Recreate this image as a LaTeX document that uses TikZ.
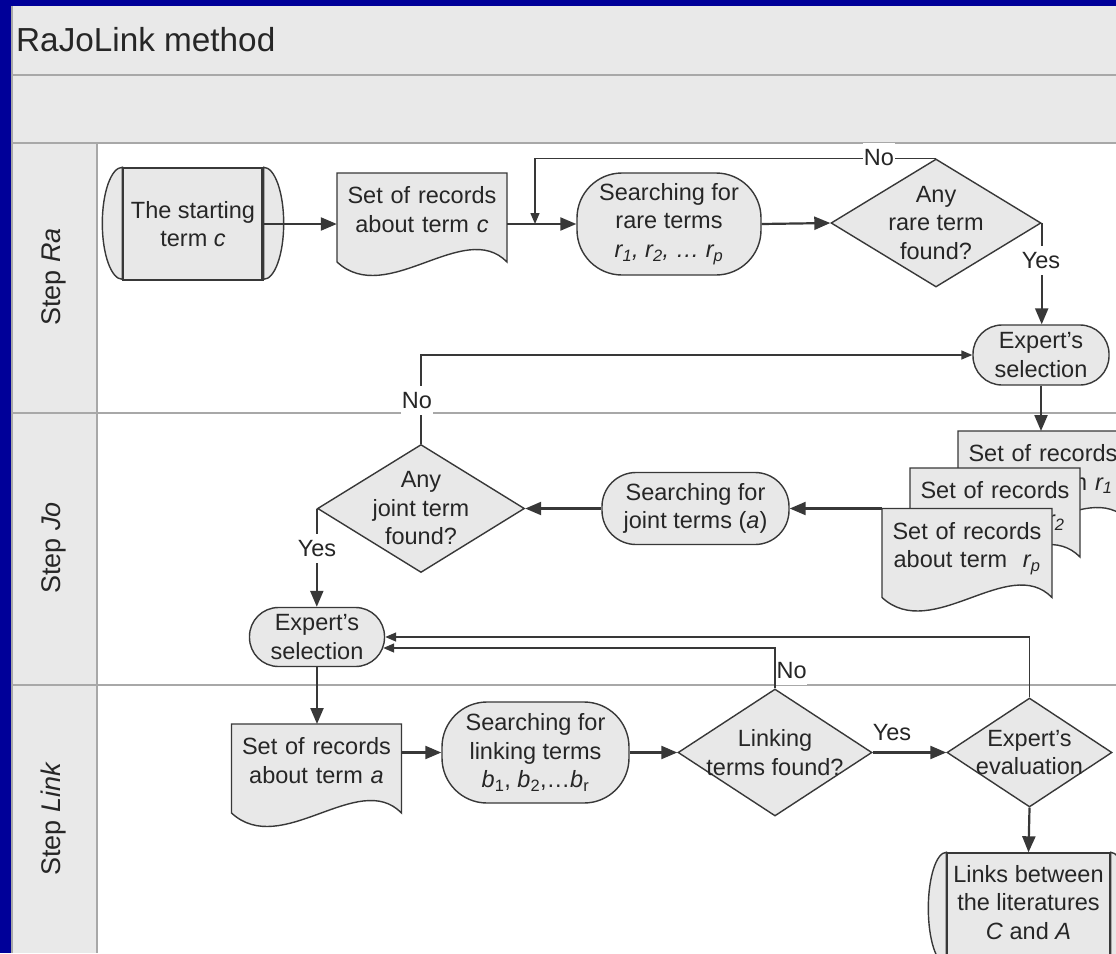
\documentclass[tikz,border=0pt]{standalone}
\usepackage{fontspec}
\setmainfont{Liberation Sans}
\usetikzlibrary{arrows.meta,shapes.geometric,calc}
\definecolor{blueb}{HTML}{000099}
\definecolor{bandc}{HTML}{E9E9E9}
\definecolor{lanel}{HTML}{A8A8A8}
\definecolor{shfill}{HTML}{E8E8E8}
\definecolor{linec}{HTML}{383838}
\definecolor{txtc}{HTML}{262626}
\tikzset{
  basefont/.style={font=\fontsize{23.5}{28.5}\selectfont, text=txtc},
  lanefont/.style={font=\fontsize{27}{32}\selectfont, text=txtc},
  laneline/.style={draw=lanel, line width=2pt},
  shapeline/.style={draw=linec, fill=shfill, line width=1.4pt},
  proc/.style={rectangle, shapeline, basefont, align=center, inner sep=0pt},
  stadium/.style={rectangle, shapeline, basefont, align=center, inner sep=0pt},
  dia/.style={diamond, shapeline, inner sep=0pt},
  plaintext/.style={basefont, align=center, inner sep=0pt},
  doctext/.style={basefont, align=center, text width=170pt, inner xsep=0pt, inner ysep=13.5pt},
  lbl/.style={basefont, fill=white, inner xsep=0.5pt, inner ysep=6pt},
  arr/.style={draw=linec, line width=2.2pt, -{Triangle[length=16pt,width=13pt]}},
  arrthin/.style={draw=linec, line width=1.4pt, -{Triangle[length=11pt,width=9pt]}},
  pics/docpic/.style={code={
    \filldraw[shapeline] (0,0) -- (170,0) -- (170,89) .. controls (127,45) and (50,135) .. (0,89) -- cycle;
    \node[doctext, anchor=north] (-t) at (85,0) {#1};
  }}
}
\begin{document}
\begin{tikzpicture}[x=1pt,y=-1pt]
\useasboundingbox (0,0) rectangle (1116,953);
\clip (0,0) rectangle (1116,953);
% frame and lanes
\fill[blueb] (0,0) rectangle (1116,953);
\fill[bandc] (11,6) rectangle (1116,953);
\fill[white] (97,143) rectangle (1116,953);
\draw[laneline] (12,6) -- (12,953);
\draw[laneline] (12,74.5) -- (1116,74.5);
\draw[laneline] (12,142.5) -- (1116,142.5);
\draw[laneline] (97,142.5) -- (97,953);
\draw[laneline] (12,413) -- (1116,413);
\draw[laneline] (12,684.5) -- (1116,684.5);
\node[anchor=base west, font=\fontsize{33.3}{40}\selectfont, text=txtc, inner sep=0pt] (title) at (16,51) {RaJoLink method};
\node[lanefont, rotate=90] (lra) at (54,277) {Step \textit{Ra}};
\node[lanefont, rotate=90] (ljo) at (54,548) {Step \textit{Jo}};
\node[lanefont, rotate=90] (lli) at (54,819) {Step \textit{Link}};
% Step Ra
\node[proc, minimum width=140, minimum height=112] (start) at (193,224) {The starting\\term \textit{c}};
\filldraw[shapeline] (start.north west) arc[start angle=90,end angle=270,x radius=20pt,y radius=56pt] -- cycle;
\filldraw[shapeline] (start.north east) arc[start angle=90,end angle=-90,x radius=20pt,y radius=56pt] -- cycle;
\draw[draw=linec, line width=1.4pt] ([xshift=-2.5pt]start.north east) -- ([xshift=-2.5pt]start.south east);
\pic (dc) at (337,173) {docpic={Set of records\\about term \textit{c}}};
\node[stadium, minimum width=184, minimum height=102, rounded corners=45] (sr) at (669,224) {Searching for\\rare terms\\{\itshape r\textsubscript{1}, r\textsubscript{2}, … r\textsubscript{p}}};
\node[dia, minimum width=210, minimum height=128] (d1) at (936,223) {};
\node[plaintext] (d1t) at (d1) {Any\\rare term\\found?};
\node[stadium, minimum width=136, minimum height=60, rounded corners=29] (es1) at (1041,355) {Expert’s\\selection};
% Step Jo
\pic (r1) at (958,431) {docpic={Set of records\\about term \textit{r\textsubscript{1}}}};
\pic (r2) at (910,468) {docpic={Set of records\\about term \textit{r\textsubscript{2}}}};
\pic (rp) at (882,508.5) {docpic={Set of records\\about term\ \ \textit{r\textsubscript{p}}}};
\node[stadium, minimum width=187, minimum height=72, rounded corners=34] (sj) at (695.5,508.5) {Searching for\\joint terms (\textit{a})};
\node[dia, minimum width=207, minimum height=128] (dj) at (421,508.5) {};
\node[plaintext] (djt) at (dj) {Any\\joint term\\found?};
\node[stadium, minimum width=135, minimum height=59, rounded corners=29] (es2) at (317,637) {Expert's\\selection};
% Step Link
\pic (doca) at (231.5,724) {docpic={Set of records\\about term \textit{a}}};
\node[stadium, minimum width=187, minimum height=101, rounded corners=45] (sl) at (535.5,752.5) {Searching for\\linking terms\\\textit{b}\textsubscript{1}, \textit{b}\textsubscript{2},…\textit{b}\textsubscript{r}};
\node[dia, minimum width=194, minimum height=127] (dl) at (775,752.5) {};
\node[plaintext] (dlt) at (dl) {Linking\\terms found?};
\node[dia, minimum width=165, minimum height=109] (de) at (1029.5,752.5) {};
\node[plaintext] (det) at (de) {Expert's\\evaluation};
\node[proc, minimum width=163, minimum height=112, text depth=14pt] (links) at (1028.5,909) {Links between\\the literatures\\\textit{C} and \textit{A}};
\filldraw[shapeline] (links.north west) arc[start angle=90,end angle=270,x radius=18pt,y radius=56pt] -- cycle;
\filldraw[shapeline] (links.north east) arc[start angle=90,end angle=-90,x radius=18pt,y radius=56pt] -- cycle;
% connectors
\draw[arr] (start.east) -- (start.east -| dc-t.west);
\draw[arr] (sr.west -| dc-t.east) -- (sr.west);
\draw[arr] (sr.east) -- (d1.west);
\coordinate (j1) at (535,224);
\draw[arrthin] (d1.north) -- (d1.north -| j1) -- (j1);
\draw[arr] (d1.east) -- (d1.east |- es1.north);
\draw[arr] (es1.south) -- (es1.south |- r1-t.north);
\draw[arrthin] (dj.north) -- (dj.north |- es1.west) -- (es1.west);
\draw[arr] (rp-t.north west) -- (sj.east);
\draw[arr] (sj.west) -- (dj.east);
\draw[arr] (dj.west) -- (dj.west |- es2.north);
\draw[arr] (es2.south) -- (es2.south |- doca-t.north);
\draw[arr] (sl.west -| doca-t.east) -- (sl.west);
\draw[arr] (sl.east) -- (dl.west);
\draw[arr] (dl.east) -- (de.west);
\draw[arr] (de.south) -- (links.north);
\draw[arrthin] (de.north) -- (de.north |- es2.east) -- (es2.east);
\coordinate (j2) at ($(es2.east)+(-2,11)$);
\draw[arrthin] (dl.north) -- (dl.north |- j2) -- (j2);
% labels
\node[lbl, anchor=base] (no1) at (879,165.5) {No};
\node[lbl, anchor=base] (yes1) at (1041,268.5) {Yes};
\node[lbl, anchor=base] (no2) at (417,408.5) {No};
\node[lbl, anchor=base] (yes2) at (317,556.5) {Yes};
\node[lbl, anchor=base west] (no3) at (776,678.5) {No};
\node[lbl, anchor=base, fill=none] (yes3) at (892,740.5) {Yes};
\end{tikzpicture}
\end{document}
